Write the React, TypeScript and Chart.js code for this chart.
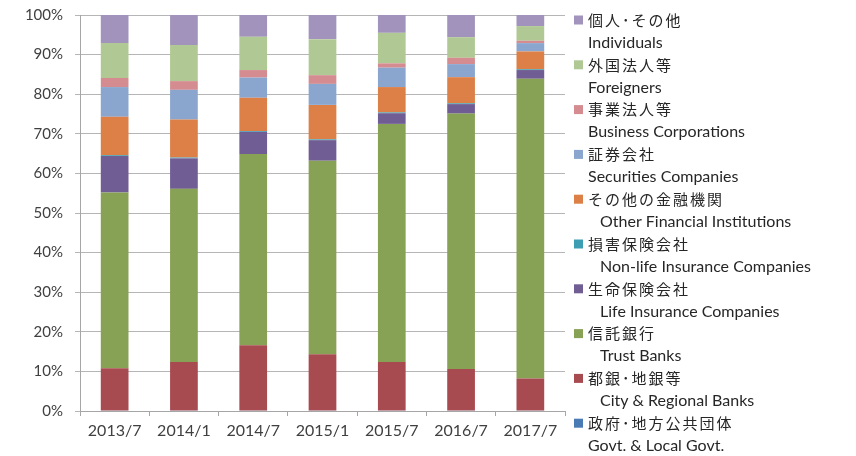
import { useEffect, useRef } from 'react';
import { Chart, registerables } from 'chart.js';

Chart.register(...registerables);

const categories = ['2013/7', '2014/1', '2014/7', '2015/1', '2015/7', '2016/7', '2017/7'];

// share (%) of each holder group, bottom of stack first
const govtLocal = [0.1, 0.1, 0.1, 0.1, 0.1, 0.1, 0.1];
const cityRegional = [10.7, 12.3, 16.5, 14.2, 12.3, 10.5, 8.1];
const trustBanks = [44.4, 43.7, 48.3, 48.9, 60.1, 64.5, 75.7];
const lifeIns = [9.2, 7.7, 5.6, 5.2, 2.7, 2.4, 2.2];
const nonLifeIns = [0.2, 0.2, 0.2, 0.2, 0.2, 0.2, 0.2];
const otherFin = [9.7, 9.6, 8.4, 8.7, 6.4, 6.6, 4.5];
const securities = [7.5, 7.5, 5.1, 5.3, 4.9, 3.3, 2.1];
const businessCorp = [2.3, 2.2, 1.9, 2.2, 1.1, 1.6, 0.6];
const foreigners = [8.8, 9.1, 8.4, 9.1, 7.7, 5.2, 3.7];
const individuals = [7.1, 7.6, 5.5, 6.1, 4.5, 5.6, 2.8];

const yTicks = [0, 10, 20, 30, 40, 50, 60, 70, 80, 90, 100];

const labelsJa = ['政府･地方公共団体', '都銀･地銀等', '信託銀行', '生命保険会社', '損害保険会社', 'その他の金融機関', '証券会社', '事業法人等', '外国法人等', '個人･その他'];
const labelsEn = ['Govt. & Local Govt.', 'City & Regional Banks', 'Trust Banks', 'Life Insurance Companies', 'Non-life Insurance Companies', 'Other Financial Institutions', 'Securities Companies', 'Business Corporations', 'Foreigners', 'Individuals'];
const seriesValues = [govtLocal, cityRegional, trustBanks, lifeIns, nonLifeIns, otherFin, securities, businessCorp, foreigners, individuals];

const colors = ['#4a7bb5', '#a84b50', '#87a155', '#705d94', '#3c9db3', '#dc8047', '#8aa6cf', '#d48c91', '#b0c994', '#a193bb'];
const enIndent = [0, 12, 12, 12, 12, 12, 0, 0, 0, 0];

const sideLegend = {
  id: 'sideLegend',
  afterDraw(chart: any) {
    const ctx = chart.ctx as CanvasRenderingContext2D;
    const ds = chart.data.datasets;
    const x0 = chart.chartArea.right + 9;
    ctx.save();
    ctx.textBaseline = 'middle';
    ctx.textAlign = 'left';
    for (let i = 0; i < ds.length; i++) {
      const idx = ds.length - 1 - i;
      const d = ds[idx];
      const y = 20 + i * 44.8;
      ctx.fillStyle = d.backgroundColor;
      ctx.fillRect(x0, y - 4.5, 9, 9);
      ctx.fillStyle = '#262626';
      ctx.font = '15px "Noto Sans CJK JP"';
      (ctx as any).letterSpacing = '2px';
      ctx.fillText(d.label, x0 + 14, y);
      (ctx as any).letterSpacing = '0px';
      ctx.font = '16px Lato';
      ctx.fillText(labelsEn[idx], x0 + 14 + enIndent[idx], y + 22.7);
    }
    ctx.restore();
  },
};

export default function App() {
  const ref = useRef<HTMLCanvasElement>(null);
  useEffect(() => {
    document.body.style.margin = '0';
    const chart = new Chart(ref.current!, {
      type: 'bar',
      data: {
        labels: categories,
        datasets: seriesValues.map((v, i) => ({
          label: labelsJa[i],
          data: v,
          backgroundColor: colors[i],
          borderWidth: 0,
          categoryPercentage: 1,
          barPercentage: 0.4,
        })),
      },
      options: {
        animation: false,
        responsive: true,
        maintainAspectRatio: false,
        layout: { padding: { top: 15, right: 291, left: 0, bottom: 0 } },
        plugins: { legend: { display: false }, tooltip: { enabled: false } },
        scales: {
          x: {
            stacked: true,
            grid: { display: true, drawOnChartArea: false, drawTicks: true, tickLength: 5, color: '#a6a6a6', offset: true },
            border: { color: '#a6a6a6' },
            ticks: { color: '#404040', font: { family: 'Lato', size: 16 }, padding: 5, maxRotation: 0 },
            afterFit: (s: any) => { s.height = 45; s.paddingLeft = 0; s.paddingRight = 0; },
          },
          y: {
            stacked: true,
            min: 0,
            max: 100,
            afterBuildTicks: (s: any) => { s.ticks = yTicks.map((v) => ({ value: v })); },
            grid: { color: '#b5b5b5', tickLength: 5 },
            border: { color: '#a6a6a6' },
            ticks: { color: '#404040', font: { family: 'Lato', size: 15 }, padding: 12, callback: (v: any) => v + '%' },
            afterFit: (s: any) => { s.width = 80; s.paddingTop = 0; s.paddingBottom = 0; },
          },
        },
      },
      plugins: [sideLegend],
    });
    return () => chart.destroy();
  }, []);
  return (
    <div style={{ position: 'relative', width: 856, height: 456 }}>
      <canvas ref={ref} />
    </div>
  );
}
